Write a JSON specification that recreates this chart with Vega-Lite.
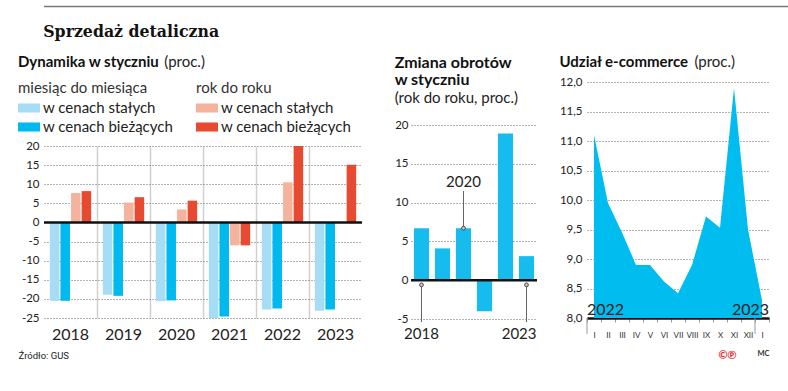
{
  "$schema": "https://vega.github.io/schema/vega-lite/v6.json",
  "background": "white",
  "padding": {"left": 18, "top": 5, "right": 5, "bottom": 5},
  "config": {
    "font": "Lato",
    "view": {"stroke": null},
    "axis": {"labelFont": "Lato", "labelColor": "#222", "titleFont": "Lato", "gridColor": "#666", "gridDash": [1, 2], "gridWidth": 1, "labelOverlap": false},
    "title": {"font": "Lato", "color": "#111", "anchor": "start", "subtitleFont": "Lato", "subtitleColor": "#222"},
    "legend": {"labelFont": "Lato", "titleFont": "Lato"}
  },
  "spacing": 13,
  "vconcat": [
    {
      "width": 752,
      "height": 1,
      "data": {"values": [{}]},
      "title": {"text": "Sprzedaż detaliczna", "orient": "bottom", "anchor": "start", "font": "DejaVu Serif Condensed, DejaVu Serif", "fontSize": 17.5, "fontWeight": "bold", "baseline": "top", "offset": 16, "color": "#111"},
      "mark": {"type": "rule", "color": "#777", "strokeWidth": 1.5},
      "encoding": {
        "x": {"datum": 0, "type": "quantitative", "scale": {"domain": [0, 1], "nice": false}, "axis": null},
        "x2": {"datum": 1}
      }
    },
    {
      "spacing": 30,
      "hconcat": [
        {
          "spacing": 0,
          "vconcat": [
            {"width": 1, "height": 1, "data": {"values": []}, "mark": "point"},
            {
              "width": 318,
              "height": 172,
              "title": {"text": "Dynamika w styczniu", "subtitle": "\u200b\u2003\u2003\u2003\u2003\u2003\u2003\u2003\u2003\u2003\u2003\u2003\u2003\u2003(proc.)", "fontSize": 15, "fontWeight": "bold", "subtitleFontSize": 15, "subtitleFontWeight": "normal", "subtitlePadding": -15, "offset": 10.5},
              "data": {"values": [
                {"rok": "2018", "miara": "m/m", "ceny": "w cenach stałych", "seria": "m/m stałe", "v": -20.5},
                {"rok": "2018", "miara": "m/m", "ceny": "w cenach bieżących", "seria": "m/m bieżące", "v": -20.5},
                {"rok": "2018", "miara": "r/r", "ceny": "w cenach stałych", "seria": "r/r stałe", "v": 7.7},
                {"rok": "2018", "miara": "r/r", "ceny": "w cenach bieżących", "seria": "r/r bieżące", "v": 8.2},
                {"rok": "2019", "miara": "m/m", "ceny": "w cenach stałych", "seria": "m/m stałe", "v": -18.9},
                {"rok": "2019", "miara": "m/m", "ceny": "w cenach bieżących", "seria": "m/m bieżące", "v": -19.2},
                {"rok": "2019", "miara": "r/r", "ceny": "w cenach stałych", "seria": "r/r stałe", "v": 5.2},
                {"rok": "2019", "miara": "r/r", "ceny": "w cenach bieżących", "seria": "r/r bieżące", "v": 6.6},
                {"rok": "2020", "miara": "m/m", "ceny": "w cenach stałych", "seria": "m/m stałe", "v": -20.6},
                {"rok": "2020", "miara": "m/m", "ceny": "w cenach bieżących", "seria": "m/m bieżące", "v": -20.4},
                {"rok": "2020", "miara": "r/r", "ceny": "w cenach stałych", "seria": "r/r stałe", "v": 3.4},
                {"rok": "2020", "miara": "r/r", "ceny": "w cenach bieżących", "seria": "r/r bieżące", "v": 5.7},
                {"rok": "2021", "miara": "m/m", "ceny": "w cenach stałych", "seria": "m/m stałe", "v": -25.0},
                {"rok": "2021", "miara": "m/m", "ceny": "w cenach bieżących", "seria": "m/m bieżące", "v": -24.6},
                {"rok": "2021", "miara": "r/r", "ceny": "w cenach stałych", "seria": "r/r stałe", "v": -6.0},
                {"rok": "2021", "miara": "r/r", "ceny": "w cenach bieżących", "seria": "r/r bieżące", "v": -6.0},
                {"rok": "2022", "miara": "m/m", "ceny": "w cenach stałych", "seria": "m/m stałe", "v": -22.8},
                {"rok": "2022", "miara": "m/m", "ceny": "w cenach bieżących", "seria": "m/m bieżące", "v": -22.5},
                {"rok": "2022", "miara": "r/r", "ceny": "w cenach stałych", "seria": "r/r stałe", "v": 10.5},
                {"rok": "2022", "miara": "r/r", "ceny": "w cenach bieżących", "seria": "r/r bieżące", "v": 20.0},
                {"rok": "2023", "miara": "m/m", "ceny": "w cenach stałych", "seria": "m/m stałe", "v": -23.1},
                {"rok": "2023", "miara": "m/m", "ceny": "w cenach bieżących", "seria": "m/m bieżące", "v": -22.8},
                {"rok": "2023", "miara": "r/r", "ceny": "w cenach bieżących", "seria": "r/r bieżące", "v": 15.1}
              ]},
              "resolve": {"scale": {"color": "independent"}},
              "layer": [
                {
                  "transform": [{"filter": "datum.miara === 'm/m'"}],
                  "mark": {"type": "bar"},
                  "encoding": {
                    "x": {"field": "rok", "type": "nominal", "scale": {"paddingInner": 0, "paddingOuter": 0},
                      "axis": {"title": "Źródło: GUS", "titleX": -26, "titleY": 32, "titleAlign": "left", "titleAnchor": "start", "titleBaseline": "top", "titleFont": "Roboto", "titleFontSize": 9.5, "titleFontWeight": "normal", "titleColor": "#222",
                        "labelAngle": 0, "labelFontSize": 16, "labelPadding": 8, "labelColor": "#222", "ticks": false, "domain": false, "labelOverlap": false,
                        "grid": true, "gridDash": [], "gridColor": "#d0d0d0", "gridWidth": 1.5, "bandPosition": 1, "tickExtra": false,
                        "gridOpacity": {"condition": {"test": "datum.value === '2023'", "value": 0}, "value": 1}}},
                    "xOffset": {"field": "seria", "type": "nominal", "scale": {"domain": ["m/m stałe", "m/m bieżące", "r/r stałe", "r/r bieżące"], "paddingInner": 0.1, "paddingOuter": 0.55}},
                    "y": {"field": "v", "type": "quantitative", "scale": {"domain": [-25, 20], "nice": false},
                      "axis": {"title": null, "values": [-25, -20, -15, -10, -5, 0, 5, 10, 15, 20], "tickCount": 20, "labelExpr": "'' + datum.value", "labelFontSize": 11.5, "labelPadding": 5, "ticks": false, "domain": false, "grid": true, "labelOverlap": false}},
                    "color": {"field": "ceny", "type": "nominal", "scale": {"domain": ["w cenach stałych", "w cenach bieżących"], "range": ["#a6dcf4", "#00b9ef"]},
                      "legend": {"orient": "none", "legendX": -26, "legendY": -65.5, "title": "miesiąc do miesiąca", "titleFontSize": 15, "titleFontWeight": "normal", "titleColor": "#333", "titlePadding": 1.5, "titleLimit": 300, "labelFontSize": 15, "labelColor": "#222", "labelLimit": 300, "symbolType": "M-1,-0.41H1V0.41H-1Z", "symbolSize": 484, "symbolStrokeWidth": 0, "labelOffset": 3, "rowPadding": -5.5, "direction": "vertical"}}
                  }
                },
                {
                  "transform": [{"filter": "datum.miara === 'r/r'"}],
                  "mark": {"type": "bar"},
                  "encoding": {
                    "x": {"field": "rok", "type": "nominal"},
                    "xOffset": {"field": "seria", "type": "nominal"},
                    "y": {"field": "v", "type": "quantitative"},
                    "color": {"field": "ceny", "type": "nominal", "scale": {"domain": ["w cenach stałych", "w cenach bieżących"], "range": ["#f5b39e", "#e64a30"]},
                      "legend": {"orient": "none", "legendX": 152, "legendY": -65.5, "title": "rok do roku", "titleFontSize": 15, "titleFontWeight": "normal", "titleColor": "#333", "titlePadding": 1.5, "titleLimit": 300, "labelFontSize": 15, "labelColor": "#222", "labelLimit": 300, "symbolType": "M-1,-0.41H1V0.41H-1Z", "symbolSize": 484, "symbolStrokeWidth": 0, "labelOffset": 3, "rowPadding": -5.5, "direction": "vertical"}}
                  }
                },
                {
                  "data": {"values": [{}]},
                  "mark": {"type": "rule", "color": "#111", "strokeWidth": 2.5},
                  "encoding": {"y": {"datum": 0}}
                }
              ]
            }
          ]
        },
        {
          "spacing": 20,
          "title": {"text": "MC", "orient": "bottom", "anchor": "end", "fontSize": 7.5, "fontWeight": "bold", "color": "#333", "offset": 0, "dy": -10},
          "hconcat": [
            {
              "spacing": 0,
              "vconcat": [
                {"width": 1, "height": 1, "data": {"values": []}, "mark": "point"},
                {
                  "width": 126,
                  "height": 194,
                  "title": {"text": ["Zmiana obrotów", "w styczniu"], "subtitle": "(rok do roku, proc.)", "fontSize": 16, "fontWeight": "bold", "lineHeight": 16.5, "subtitleFontSize": 15, "subtitleFontWeight": "normal", "subtitlePadding": 3, "offset": 13.5},
                  "data": {"values": [
                    {"rok": "2018", "v": 6.7},
                    {"rok": "2019", "v": 4.1},
                    {"rok": "2020", "v": 6.7},
                    {"rok": "2021", "v": -4.0},
                    {"rok": "2022", "v": 18.9},
                    {"rok": "2023", "v": 3.1}
                  ]},
                  "layer": [
                    {
                      "mark": {"type": "bar", "color": "#17bcee"},
                      "encoding": {
                        "x": {"field": "rok", "type": "nominal", "scale": {"paddingInner": 0.28, "paddingOuter": 0.14},
                          "axis": {"title": null, "labelAngle": 0, "labelFontSize": 15, "labelPadding": 7, "labelColor": "#222", "ticks": false, "domain": false, "labelOverlap": false,
                            "labelExpr": "datum.value === '2018' || datum.value === '2023' ? datum.value : ''",
                            "labelAlign": {"condition": {"test": "datum.value === '2023'", "value": "right"}, "value": "center"},
                            "labelOffset": {"condition": {"test": "datum.value === '2023'", "value": 10}, "value": 0}}},
                        "y": {"field": "v", "type": "quantitative", "scale": {"domain": [-5, 20], "nice": false},
                          "axis": {"title": null, "values": [-5, 0, 5, 10, 15, 20], "tickCount": 20, "labelExpr": "'' + datum.value", "labelFontSize": 11.5, "labelPadding": 3, "ticks": false, "domain": false, "grid": true, "labelOverlap": false}}
                      }
                    },
                    {
                      "transform": [{"filter": "datum.rok === '2020'"}],
                      "mark": {"type": "rule", "color": "#666", "strokeWidth": 1},
                      "encoding": {"x": {"field": "rok", "type": "nominal"}, "y": {"field": "v", "type": "quantitative"}, "y2": {"datum": 11.5}}
                    },
                    {
                      "transform": [{"filter": "datum.rok === '2020'"}],
                      "mark": {"type": "text", "fontSize": 15, "baseline": "alphabetic", "color": "#222"},
                      "encoding": {"x": {"field": "rok", "type": "nominal"}, "y": {"datum": 12.0}, "text": {"field": "rok"}}
                    },
                    {
                      "transform": [{"filter": "datum.rok === '2018' || datum.rok === '2023'"}],
                      "mark": {"type": "rule", "color": "#666", "strokeWidth": 1},
                      "encoding": {"x": {"field": "rok", "type": "nominal"}, "y": {"datum": -0.6}, "y2": {"datum": -5.4}}
                    },
                    {
                      "data": {"values": [{}]},
                      "mark": {"type": "rule", "color": "#111", "strokeWidth": 2.5},
                      "encoding": {"y": {"datum": 0}}
                    },
                    {
                      "transform": [{"filter": "datum.rok === '2020'"}],
                      "mark": {"type": "point", "shape": "circle", "size": 14, "filled": true, "fill": "#ccc", "stroke": "#444", "strokeWidth": 1, "opacity": 1},
                      "encoding": {"x": {"field": "rok", "type": "nominal"}, "y": {"field": "v", "type": "quantitative"}}
                    },
                    {
                      "transform": [{"filter": "datum.rok === '2018' || datum.rok === '2023'"}],
                      "mark": {"type": "point", "shape": "circle", "size": 14, "filled": true, "fill": "#ccc", "stroke": "#444", "strokeWidth": 1, "opacity": 1},
                      "encoding": {"x": {"field": "rok", "type": "nominal"}, "y": {"datum": -0.6}}
                    }
                  ]
                }
              ]
            },
            {
              "spacing": 0,
              "vconcat": [
                {"width": 1, "height": 1, "data": {"values": []}, "mark": "point"},
                {
                  "width": 182,
                  "height": 236,
                  "title": {"text": "Udział e-commerce", "subtitle": "\u200b\u2003\u2003\u2003\u2003\u2003\u2003\u2003\u2003\u2003\u2003\u2003\u2003(proc.)", "fontSize": 15, "fontWeight": "bold", "subtitleFontSize": 15, "subtitleFontWeight": "normal", "subtitlePadding": -15, "offset": 6},
                  "data": {"values": [
                    {"miesiac": "I", "rok": "2022", "v": 11.1},
                    {"miesiac": "II", "rok": "2022", "v": 9.95},
                    {"miesiac": "III", "rok": "2022", "v": 9.45},
                    {"miesiac": "IV", "rok": "2022", "v": 8.9},
                    {"miesiac": "V", "rok": "2022", "v": 8.9},
                    {"miesiac": "VI", "rok": "2022", "v": 8.62},
                    {"miesiac": "VII", "rok": "2022", "v": 8.42},
                    {"miesiac": "VIII", "rok": "2022", "v": 8.9},
                    {"miesiac": "IX", "rok": "2022", "v": 9.72},
                    {"miesiac": "X", "rok": "2022", "v": 9.53},
                    {"miesiac": "XI", "rok": "2022", "v": 11.9},
                    {"miesiac": "XII", "rok": "2022", "v": 9.5},
                    {"miesiac": "I ", "rok": "2023", "v": 8.3}
                  ]},
                  "layer": [
                    {
                      "mark": {"type": "area", "color": "#00bcef", "opacity": 1},
                      "encoding": {
                        "x": {"field": "miesiac", "type": "ordinal", "bandPosition": 0.5,
                          "scale": {"type": "band", "domain": ["I", "II", "III", "IV", "V", "VI", "VII", "VIII", "IX", "X", "XI", "XII", "I "], "paddingInner": 0, "paddingOuter": 0},
                          "axis": {"title": "©℗", "titleX": 131, "titleY": 31, "titleAlign": "left", "titleAnchor": "start", "titleBaseline": "top", "titleColor": "#e3262b", "titleFontSize": 11, "titleFontWeight": "bold",
                            "labelAngle": 0, "labelFontSize": 8, "labelColor": "#333", "labelPadding": 9, "labelOverlap": false, "tickBand": "extent", "tickColor": "#999", "tickWidth": 1, "tickSize": 4,
                            "domainColor": "#111", "domainWidth": 2.5, "grid": false}},
                        "y": {"field": "v", "type": "quantitative", "scale": {"domain": [8, 12], "nice": false, "zero": false},
                          "axis": {"title": null, "values": [8, 8.5, 9, 9.5, 10, 10.5, 11, 11.5, 12], "tickCount": 20, "labelExpr": "replace(format(datum.value, '.1f'), '.', ',')", "labelFontSize": 11.5, "labelPadding": 5, "ticks": false, "domain": false, "grid": true, "labelOverlap": false}},
                        "y2": {"datum": 8}
                      }
                    },
                    {
                      "transform": [{"filter": "datum.miesiac === 'I'"}],
                      "mark": {"type": "rule", "color": "#999", "strokeWidth": 1},
                      "encoding": {"x": {"field": "miesiac", "type": "ordinal", "bandPosition": 0}, "y": {"datum": 8}, "y2": {"datum": 7.73}}
                    },
                    {
                      "transform": [{"filter": "datum.miesiac === 'XII'"}],
                      "mark": {"type": "rule", "color": "#999", "strokeWidth": 1},
                      "encoding": {"x": {"field": "miesiac", "type": "ordinal", "bandPosition": 1}, "y": {"datum": 8}, "y2": {"datum": 7.73}}
                    },
                    {
                      "transform": [{"filter": "datum.miesiac === 'I'"}],
                      "mark": {"type": "text", "align": "left", "baseline": "alphabetic", "fontSize": 16, "color": "#222"},
                      "encoding": {"x": {"field": "miesiac", "type": "ordinal", "bandPosition": 0}, "y": {"datum": 8.05}, "text": {"field": "rok"}}
                    },
                    {
                      "transform": [{"filter": "datum.miesiac === 'I '"}],
                      "mark": {"type": "text", "align": "right", "baseline": "alphabetic", "fontSize": 16, "color": "#222"},
                      "encoding": {"x": {"field": "miesiac", "type": "ordinal", "bandPosition": 1}, "y": {"datum": 8.05}, "text": {"field": "rok"}}
                    }
                  ]
                }
              ]
            }
          ]
        }
      ]
    }
  ]
}
